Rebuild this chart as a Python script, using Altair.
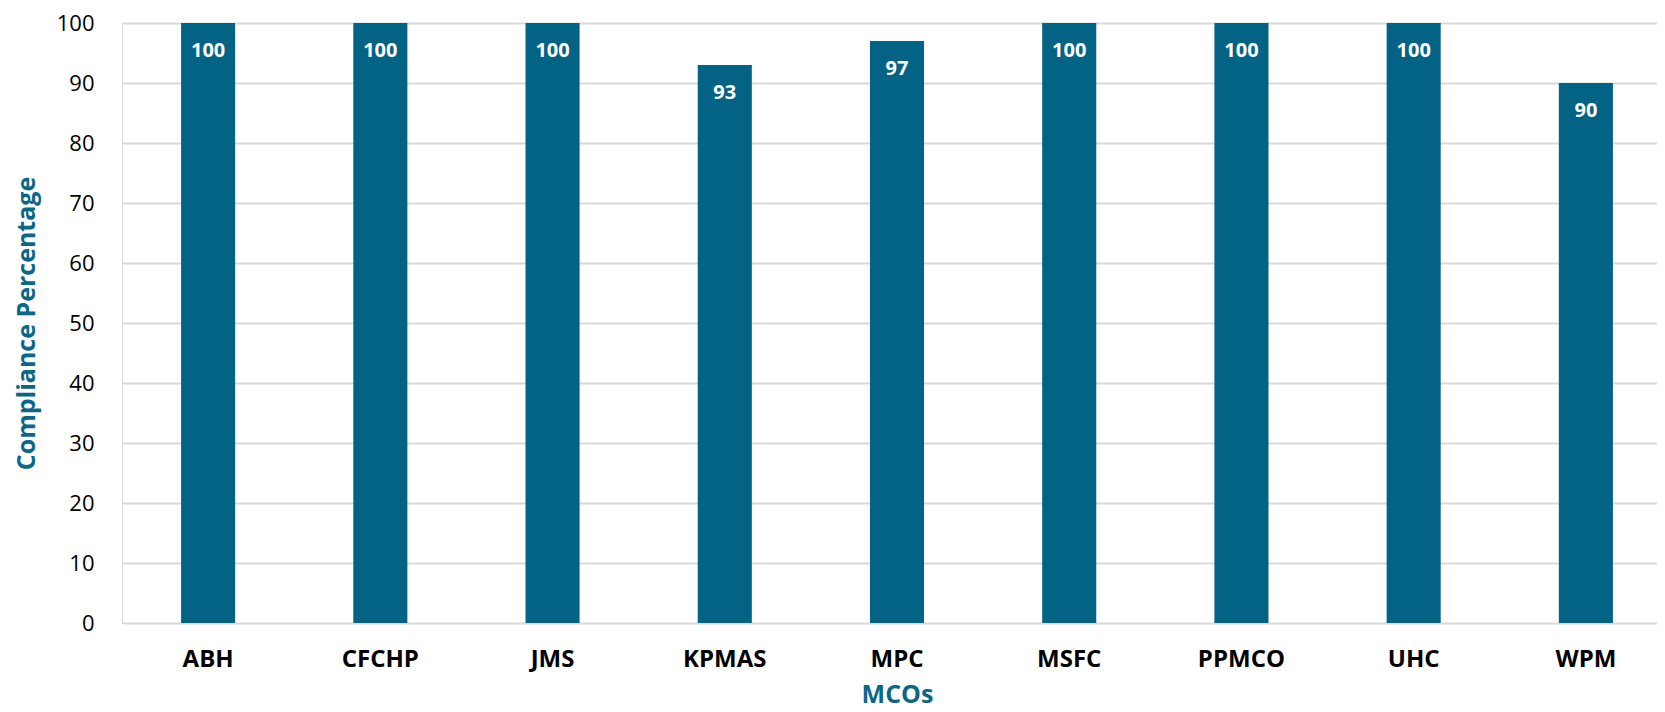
import altair as alt
import pandas as pd

mcos = ["ABH", "CFCHP", "JMS", "KPMAS", "MPC", "MSFC", "PPMCO", "UHC", "WPM"]
compliance = [100, 100, 100, 93, 97, 100, 100, 100, 90]

df = pd.DataFrame({"MCO": mcos, "Compliance": compliance})

BAR = "#036385"
TEAL = "#0b6788"
FONT = "Open Sans"

base = alt.Chart(df).encode(
    x=alt.X(
        "MCO:N",
        sort=mcos,
        scale=alt.Scale(range=[0, 1550], paddingInner=0.686, paddingOuter=0.343),
        axis=alt.Axis(
            title="MCOs",
            labelAngle=0,
            labelFont=FONT,
            labelFontSize=24,
            labelFontWeight="bold",
            labelColor="#000000",
            labelBaseline="middle",
            labelPadding=36,
            ticks=False,
            domain=False,
            grid=False,
            titleFont=FONT,
            titleFontSize=25,
            titleFontWeight="bold",
            titleColor=TEAL,
            titleX=775,
            titleY=71,
            titleBaseline="middle",
            titleAnchor="middle",
        ),
    ),
    y=alt.Y(
        "Compliance:Q",
        scale=alt.Scale(domain=[0, 100], nice=False),
        axis=alt.Axis(
            title="Compliance Percentage",
            values=list(range(0, 101, 10)),
            labelFont=FONT,
            labelFontSize=22,
            labelColor="#000000",
            labelPadding=28,
            ticks=False,
            domain=False,
            grid=True,
            gridColor="#d9d9d9",
            gridWidth=2,
            titleFont=FONT,
            titleFontSize=25,
            titleFontWeight="bold",
            titleColor=TEAL,
            titleAngle=-90,
            titleX=-96,
            titleY=300,
            titleBaseline="middle",
            titleAlign="center",
        ),
    ),
)

bars = base.mark_bar(color=BAR)
labels = base.mark_text(
    color="white",
    font=FONT,
    fontSize=20,
    fontWeight="bold",
    baseline="middle",
    dy=28,
).encode(text=alt.Text("Compliance:Q"))

chart = (
    (bars + labels)
    .properties(
        width=1535,
        height=600,
        padding={"left": 114, "top": 15, "right": 0, "bottom": 90},
        autosize=alt.AutoSizeParams(type="none"),
    )
    .configure_view(stroke=None)
    .configure(background="white")
)

chart.save("out.html", embed_options={"renderer": "svg", "actions": False})
